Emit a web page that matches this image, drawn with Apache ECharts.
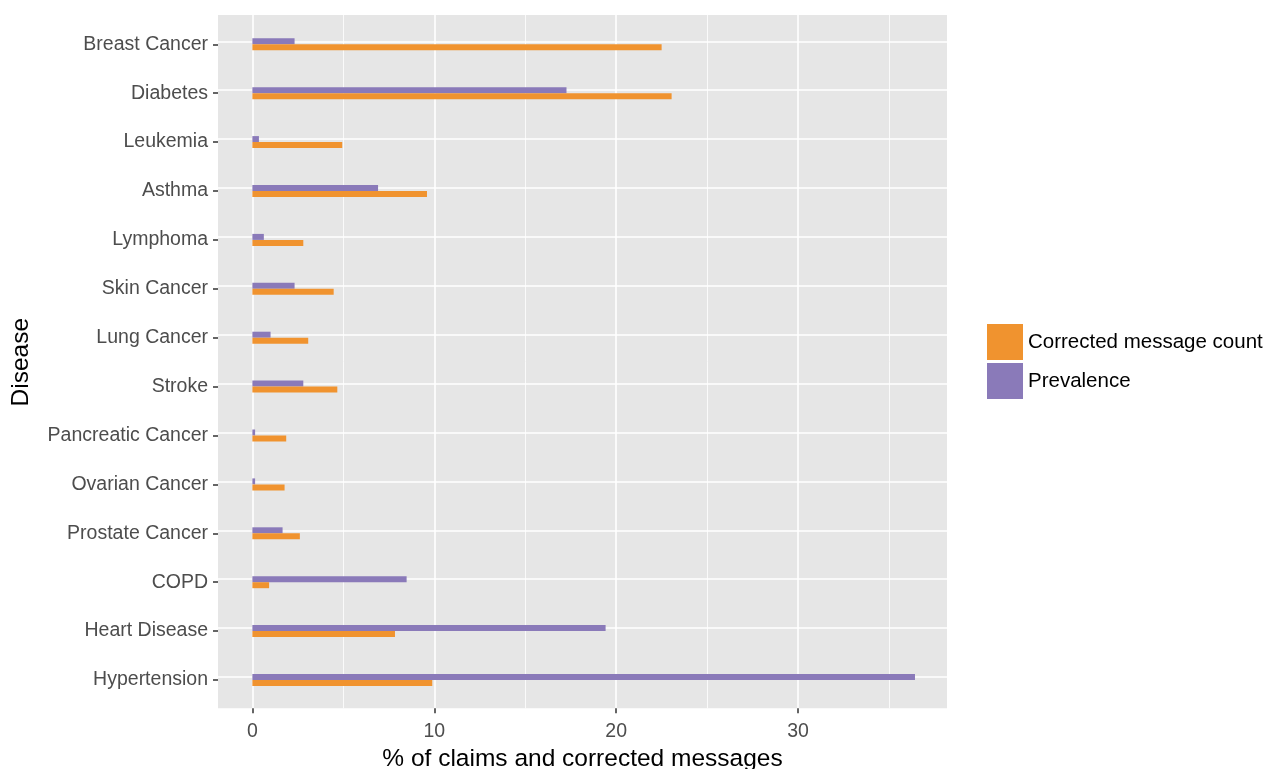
<!DOCTYPE html>
<html>
<head>
<meta charset="utf-8">
<script src="https://cdn.jsdelivr.net/npm/echarts@6/dist/echarts.min.js"></script>
<style>html,body{margin:0;padding:0;background:#fff}#c{width:1265px;height:769px}</style>
</head>
<body>
<div id="c"></div>
<script>
const categories = ['Breast Cancer','Diabetes','Leukemia','Asthma','Lymphoma','Skin Cancer','Lung Cancer','Stroke','Pancreatic Cancer','Ovarian Cancer','Prostate Cancer','COPD','Heart Disease','Hypertension'];
const correctedCount = [22.5, 23.05, 4.94, 9.6, 2.8, 4.47, 3.07, 4.67, 1.86, 1.77, 2.61, 0.92, 7.84, 9.89];
const prevalence = [2.32, 17.27, 0.36, 6.91, 0.63, 2.32, 1.0, 2.8, 0.15, 0.15, 1.66, 8.48, 19.42, 36.43];
const xTicks = [0, 10, 20, 30];

const FONT = '"Liberation Sans", Arial, Helvetica, sans-serif';
const chart = echarts.init(document.getElementById('c'), null, {renderer: 'canvas'});

const option = {
  animation: false,
  backgroundColor: '#ffffff',
  textStyle: {fontFamily: FONT},
  graphic: [{
    type: 'rect', z: -100, silent: true,
    shape: {x: 218, y: 15, width: 729, height: 693.3},
    style: {fill: '#E6E6E6'}
  }],
  grid: [
    {left: 218, right: 318, top: 19.85, bottom: 64.55, containLabel: false, outerBoundsMode: 'none'},
    {left: 70.5, right: 285, top: 15, bottom: 60.7, containLabel: false, outerBoundsMode: 'none'}
  ],
  xAxis: [
    {type: 'value', gridIndex: 0, min: -1.89, max: 38.19, show: true,
     axisLine: {show: false}, axisTick: {show: false}, axisLabel: {show: false},
     splitLine: {show: false},
     name: '% of claims and corrected messages', nameLocation: 'middle', nameGap: 42,
     nameTextStyle: {fontSize: 24.5, color: '#000000', fontFamily: FONT}
    },
    {type: 'value', gridIndex: 1, min: -10, max: 40, interval: 10,
     axisLine: {show: false},
     axisTick: {show: true, length: 5, customValues: xTicks, lineStyle: {color: '#333333', width: 1.5}},
     axisLabel: {show: true, customValues: xTicks, color: '#4D4D4D', fontSize: 19.5, margin: 13, fontFamily: FONT},
     splitLine: {show: true, lineStyle: {color: '#ffffff', width: 1.6}},
     minorTick: {show: false, splitNumber: 2},
     minorSplitLine: {show: true, lineStyle: {color: '#ffffff', width: 0.8}}
    }
  ],
  yAxis: [
    {type: 'category', gridIndex: 0, data: categories, inverse: true,
     axisLine: {show: false, onZero: false},
     axisTick: {show: true, alignWithLabel: true, length: 5, lineStyle: {color: '#333333', width: 1.5}},
     axisLabel: {color: '#4D4D4D', fontSize: 19.5, margin: 10, fontFamily: FONT},
     splitLine: {show: false},
     name: 'Disease', nameLocation: 'middle', nameRotate: 90, nameGap: 184,
     nameTextStyle: {fontSize: 24.5, color: '#000000', fontFamily: FONT}
    },
    {type: 'value', gridIndex: 1, min: 0, max: 1, show: false, splitLine: {show: false}}
  ],
  legend: {
    orient: 'vertical', left: 987, top: 324, padding: 0,
    itemWidth: 36, itemHeight: 36, itemGap: 3, icon: 'rect',
    data: ['Corrected message count', 'Prevalence'],
    textStyle: {fontSize: 20.5, color: '#000000', fontFamily: FONT}
  },
  series: [
    {name: 'Prevalence', type: 'bar', xAxisIndex: 0, yAxisIndex: 0,
     data: prevalence, barWidth: 6, barGap: '0%',
     itemStyle: {color: '#8A7AB9'},
     markLine: {
       silent: true, symbol: 'none', z: -1, animation: false,
       label: {show: false},
       lineStyle: {color: '#ffffff', width: 1.6, type: 'solid'},
       data: categories.map(c => ({yAxis: c}))
     }
    },
    {name: 'Corrected message count', type: 'bar', xAxisIndex: 0, yAxisIndex: 0,
     data: correctedCount, barWidth: 6, barGap: '0%',
     itemStyle: {color: '#F0932F'}
    }
  ]
};
chart.setOption(option);
</script>
</body>
</html>
